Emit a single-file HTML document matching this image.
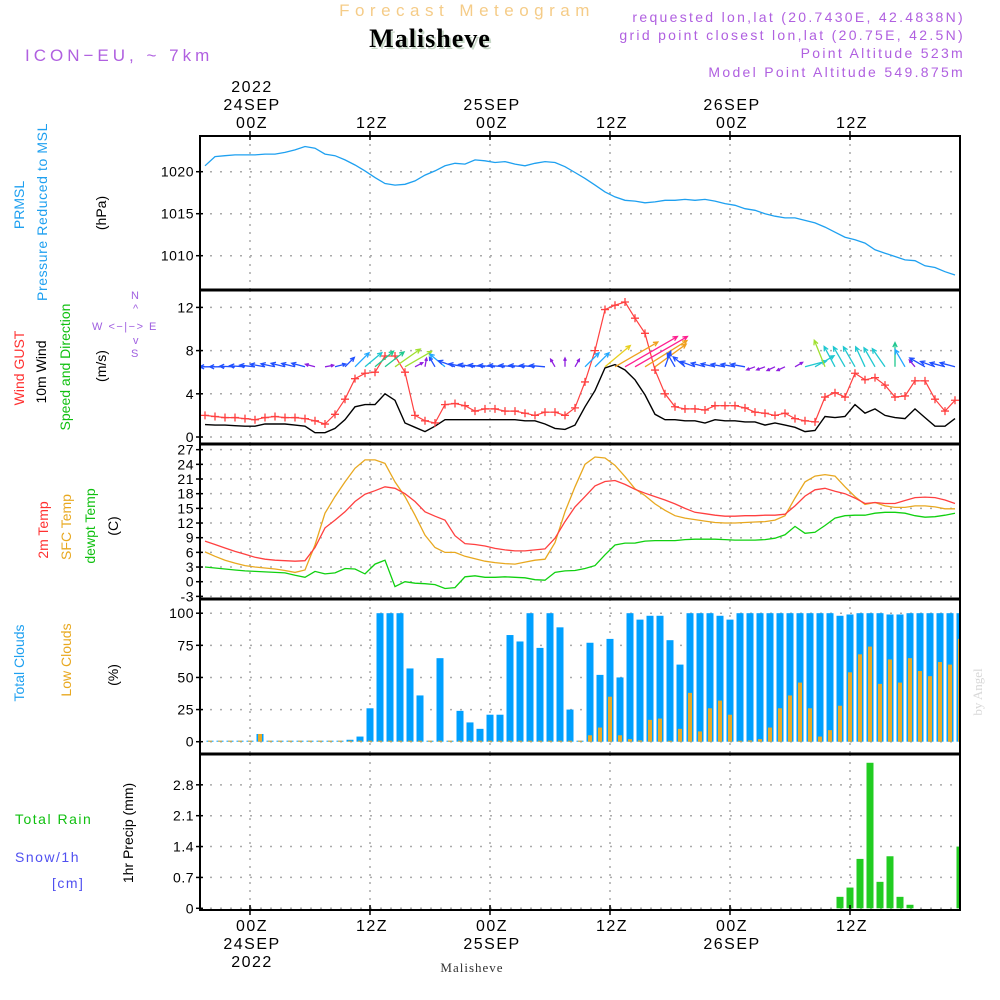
<!DOCTYPE html>
<html><head><meta charset="utf-8">
<style>
html,body{margin:0;padding:0;background:#fff;}
svg{display:block;font-family:"Liberation Sans",sans-serif;}
</style></head>
<body>
<svg id="chart" width="1000" height="1000" viewBox="0 0 1000 1000" xmlns="http://www.w3.org/2000/svg">
<rect x="0" y="0" width="1000" height="1000" fill="#fff"/>
<text x="467" y="16" text-anchor="middle" font-size="17" letter-spacing="5.5" fill="#f5cc88">Forecast Meteogram</text>
<text x="432" y="49" text-anchor="middle" font-size="26" font-weight="bold" letter-spacing="1" font-family="Liberation Serif,serif" fill="#c8d8c8">Malisheve</text>
<text x="430" y="47" text-anchor="middle" font-size="26" font-weight="bold" letter-spacing="1" font-family="Liberation Serif,serif" fill="#000">Malisheve</text>
<g fill="#b060e0" font-size="14" letter-spacing="2.3" text-anchor="end">
<text x="965" y="22">requested lon,lat (20.7430E, 42.4838N)</text>
<text x="965" y="40">grid point closest lon,lat (20.75E, 42.5N)</text>
<text x="965" y="58">Point Altitude 523m</text>
<text x="965" y="77">Model Point Altitude 549.875m</text>
</g>
<text x="25" y="61" font-size="17" letter-spacing="4" fill="#b060e0">ICON−EU, ~ 7km</text>
<g id="plots"></g>
<g font-size="14">
<text transform="translate(24,205) rotate(-90)" text-anchor="middle" fill="#1ea0f0">PRMSL</text>
<text transform="translate(47,212) rotate(-90)" text-anchor="middle" fill="#1ea0f0" letter-spacing="0.6">Pressure Reduced to MSL</text>
<text transform="translate(106,213) rotate(-90)" text-anchor="middle" fill="#000">(hPa)</text>
<text transform="translate(24,368) rotate(-90)" text-anchor="middle" fill="#ff3030">Wind GUST</text>
<text transform="translate(46,372) rotate(-90)" text-anchor="middle" fill="#000">10m Wind</text>
<text transform="translate(70,367) rotate(-90)" text-anchor="middle" fill="#10c010">Speed and Direction</text>
<text transform="translate(106,366) rotate(-90)" text-anchor="middle" fill="#000">(m/s)</text>
<text transform="translate(48,530) rotate(-90)" text-anchor="middle" fill="#ff3030">2m Temp</text>
<text transform="translate(71,527) rotate(-90)" text-anchor="middle" fill="#e8a820">SFC Temp</text>
<text transform="translate(95,526) rotate(-90)" text-anchor="middle" fill="#10c010">dewpt Temp</text>
<text transform="translate(118,526) rotate(-90)" text-anchor="middle" fill="#000">(C)</text>
<text transform="translate(24,663) rotate(-90)" text-anchor="middle" fill="#1ea0f0">Total Clouds</text>
<text transform="translate(71,660) rotate(-90)" text-anchor="middle" fill="#e8a820">Low Clouds</text>
<text transform="translate(118,675) rotate(-90)" text-anchor="middle" fill="#000">(%)</text>
<text x="15" y="824" fill="#10c010" letter-spacing="1.5">Total   Rain</text>
<text x="15" y="862" fill="#5050f0" letter-spacing="1.5">Snow/1h</text>
<text x="52" y="888" fill="#5050f0" letter-spacing="1.5">[cm]</text>
<text transform="translate(133,833) rotate(-90)" text-anchor="middle" fill="#000">1hr Precip (mm)</text>
</g>
<g font-size="11" fill="#a060e0">
<text x="131" y="299">N</text>
<text x="133" y="312">^</text>
<text x="92" y="330" letter-spacing="1.5">W &lt;−|−&gt; E</text>
<text x="133" y="344">v</text>
<text x="131" y="357">S</text>
</g>
<text transform="translate(982,692) rotate(-90)" text-anchor="middle" font-size="13" font-family="Liberation Serif,serif" fill="#d8d8d8">by Angel</text>
<text x="472" y="972" text-anchor="middle" font-size="13" font-family="Liberation Serif,serif" letter-spacing="1" fill="#333">Malisheve</text>
</svg>
<script>
const startHour = -4.5;
const pressure = [1020.7,1021.8,1021.9,1022.0,1022.0,1022.0,1022.1,1022.1,1022.3,1022.6,
1023.0,1022.8,1022.1,1021.9,1021.4,1020.8,1020.1,1019.3,1018.6,1018.4,
1018.5,1018.9,1019.6,1020.1,1020.7,1021.0,1020.9,1021.4,1021.3,1021.1,
1021.2,1020.9,1020.7,1021.0,1021.2,1021.1,1020.6,1019.9,1019.2,1018.4,
1017.6,1017.0,1016.6,1016.5,1016.3,1016.4,1016.6,1016.6,1016.7,1016.6,
1016.7,1016.5,1016.2,1016.0,1015.6,1015.4,1015.0,1014.7,1014.5,1014.5,
1014.2,1013.9,1013.4,1012.8,1012.2,1011.9,1011.5,1010.7,1010.3,1009.9,
1009.5,1009.4,1008.8,1008.6,1008.1,1007.7];
const gust = [2.0,1.9,1.8,1.8,1.7,1.6,1.8,1.9,1.8,1.8,1.7,1.5,1.2,2.1,3.5,5.4,5.9,6.0,7.5,7.5,
6.0,2.0,1.5,1.3,3.0,3.1,2.9,2.4,2.6,2.6,2.4,2.4,2.2,2.0,2.3,2.3,2.0,2.7,
5.1,8.0,11.8,12.2,12.5,11.0,9.6,6.2,4.0,2.8,2.6,2.6,2.5,2.9,2.9,2.9,2.7,2.3,2.2,2.0,2.2,1.7,
1.5,1.4,3.7,4.1,3.7,5.9,5.3,5.5,4.8,3.7,3.8,5.2,5.2,3.5,2.4,3.4];
const wind10m = [1.15,1.1,1.1,1.05,1.0,1.0,1.2,1.2,1.2,1.1,1.0,0.4,0.4,0.8,1.6,2.8,3.0,3.0,4.0,3.4,
1.3,0.9,0.5,1.0,1.6,1.6,1.6,1.6,1.6,1.6,1.6,1.6,1.5,1.5,1.2,0.8,0.7,1.1,
2.8,4.3,6.4,6.7,6.2,5.3,3.9,2.1,1.6,1.6,1.5,1.5,1.3,1.6,1.5,1.5,1.4,1.4,1.1,1.3,1.1,0.9,
0.5,0.6,1.9,1.8,1.9,3.0,2.2,2.6,2.0,1.8,1.7,2.6,1.8,1.0,1.0,1.7];
const windDir = [180,180,180,178,176,174,170,168,166,166,165,165,10,15,45,45,40,40,38,35,
30,28,80,120,140,160,170,172,174,175,175,175,175,175,175,120,90,60,
45,45,40,30,30,30,32,36,70,120,140,160,165,168,170,170,170,200,200,205,205,30,
15,30,112,118,120,120,115,120,125,90,120,130,150,160,165,165];
const windArrowSpeed = [2.8,2.8,2.8,2.8,2.8,2.8,2.7,2.6,2.6,2.5,2.5,1.8,1.6,2.0,2.4,3.6,4.0,4.4,4.4,5.6,
5.6,1.6,1.6,2.0,3.6,3.2,3.0,3.0,3.0,3.0,3.0,2.9,2.9,2.8,2.8,1.6,1.6,1.6,
3.6,3.6,6.0,9.0,11.0,11.0,9.0,7.0,3.0,2.8,2.8,2.8,2.6,2.6,2.6,2.6,2.6,1.6,1.6,1.6,1.6,1.6,
4.0,4.0,5.2,4.2,4.2,4.2,4.0,4.0,4.0,4.4,3.6,1.6,3.2,2.8,2.8,2.8];
const temp2m = [8.3,7.6,6.9,6.2,5.6,5.0,4.6,4.4,4.3,4.2,4.3,7.0,11.0,12.6,14.3,16.4,17.9,18.6,19.4,19.1,
18.0,16.4,14.3,13.4,12.6,9.4,7.8,7.6,7.3,6.8,6.5,6.3,6.3,6.5,6.7,8.9,12.3,15.3,17.4,
19.6,20.5,20.7,19.9,18.9,18.1,17.4,16.7,15.9,15.0,14.2,13.9,13.6,13.4,13.4,13.5,13.5,13.6,13.6,13.8,
15.5,17.5,18.8,19.1,18.5,18.0,17.1,16.0,16.2,16.0,16.0,16.6,17.2,17.3,17.2,16.7,16.0];
const tempSfc = [6.1,5.2,4.4,3.8,3.3,3.0,2.8,2.6,2.3,1.9,2.4,7.5,14.0,17.4,20.4,23.2,24.9,24.9,24.2,20.4,
17.4,13.6,9.5,7.0,6.0,6.0,5.2,4.7,4.2,3.9,3.7,3.6,4.0,4.4,4.6,8.0,14.3,19.4,24.0,
25.5,25.3,23.8,21.5,19.0,17.6,15.9,14.6,13.5,13.0,12.7,12.4,12.1,12.0,12.0,12.1,12.2,12.3,12.6,13.5,
17.1,20.4,21.6,21.9,21.6,19.4,17.4,15.8,16.2,15.5,15.2,15.2,15.5,15.5,15.3,14.9,14.9];
const dewpt = [3.0,2.8,2.6,2.4,2.2,2.1,2.0,1.9,1.8,1.3,0.9,2.1,1.6,1.8,2.7,2.6,1.6,3.6,4.4,-1.0,
0.0,-0.3,-0.4,-0.6,-1.4,-1.2,1.0,1.2,0.9,0.9,1.0,0.9,0.8,0.4,0.3,1.9,2.2,2.3,2.7,
3.3,5.5,7.5,7.9,7.9,8.3,8.4,8.4,8.4,8.6,8.7,8.7,8.7,8.6,8.5,8.5,8.5,8.6,8.9,9.6,
11.3,9.9,10.1,11.5,13.0,13.5,13.6,13.6,14.0,14.2,14.2,14.0,13.5,13.2,13.3,13.6,14.0];
const cloudStartHour = -4;
const totalClouds = [0.5,0.5,0.5,0.5,0.5,6,0.5,0.5,0.5,0.5,0.5,0.5,0.5,0.5,1.5,4,26,100,100,100,
57,36,0.5,65,0,24,15,10,21,21,83,78,100,73,100,89,25,0,77,52,
80,50,100,95,98,98,79,60,100,100,100,98,95,100,100,100,100,100,100,100,
100,100,100,98,99,100,100,100,99,99,100,100,100,100,100,100];
const lowClouds = [0,0,0,0,0,6,0,0,0,0,0,0,0,0,0,0,0,0,0,0,
0,0,0,0,0,0,0,0,0,0,0,0,0,0,0,0,0,0,5,11,
35,5,2,1,17,18,0.5,10,38,8,26,32,21,0.5,1,2,11,26,36,46,
26,4,9,28,54,68,74,45,64,46,65,55,51,62,60,80];
const precipHours = [59,60,61,62,63,64,65,66,71];
const precip = [0.26,0.47,1.12,3.3,0.6,1.18,0.26,0.08,1.4];
const topTicks = [[0,["2022","24SEP","00Z"]],[12,["12Z"]],[24,["25SEP","00Z"]],[36,["12Z"]],[48,["26SEP","00Z"]],[60,["12Z"]]];
const bottomTicks = [[0,["00Z","24SEP","2022"]],[12,["12Z"]],[24,["00Z","25SEP"]],[36,["12Z"]],[48,["00Z","26SEP"]],[60,["12Z"]]];
const pTicks = [1020,1015,1010];
const wTicks = [0,4,8,12];
const tTicks = [-3,0,3,6,9,12,15,18,21,24,27];
const cTicks = [0,25,50,75,100];
const rTicks = [0,0.7,1.4,2.1,2.8];

const NS="http://www.w3.org/2000/svg";
const X0=200, X1=960;
const xs = h => 250 + h*10;
const panels = [
 {top:136,bot:290, y:v=>171.7-(v-1020)*8.4, ticks:pTicks, name:'pressure'},
 {top:290,bot:444, y:v=>437-v*10.8, ticks:wTicks, name:'wind'},
 {top:444,bot:599, y:v=>581.7-v*4.89, ticks:tTicks, name:'temperature'},
 {top:599,bot:754, y:v=>741.7-v*1.285, ticks:cTicks, name:'clouds'},
 {top:754,bot:910, y:v=>908.3-v*44.1, ticks:rTicks, name:'precip'}
];
const root=document.getElementById('plots');
function mk(tag,attrs,parent){const e=document.createElementNS(NS,tag);for(const k in attrs)e.setAttribute(k,attrs[k]);(parent||root).appendChild(e);return e;}
const defs=mk('defs',{});
panels.forEach((p,k)=>{const cp=mk('clipPath',{id:'clip'+k},defs);mk('rect',{x:X0,y:p.top,width:X1-X0,height:p.bot-p.top},cp);});
const seriesH = pressure.map((_,i)=>startHour+i);

panels.forEach((p,k)=>{
  const g=mk('g',{});
  
  
  topTicks.forEach(t=>{
    const l=mk('line',{x1:xs(t[0]),x2:xs(t[0]),y1:p.top,y2:p.bot,stroke:'#aaa','stroke-width':1.5,'stroke-dasharray':'2 6'},g);
    
    
  });
  p.ticks.forEach(v=>{
    const y=p.y(v);
    const l=mk('line',{x1:X0,x2:X1,y1:y,y2:y,stroke:'#aaa','stroke-width':1.5,'stroke-dasharray':'2 8'},g);
    
    
    const tk=mk('line',{x1:X0-4,x2:X0+3,y1:y,y2:y,stroke:'#000','stroke-width':1.5},g);
    
    
    const tx=mk('text',{x:X0-6,y:y+5,'text-anchor':'end','font-size':14,'letter-spacing':0.5,fill:'#000'},g);
    tx.textContent=String(v);
    
    
  });
});

function polyline(vals,hours,p,k,color,name,w){
  const pts=vals.map((v,i)=>xs(hours[i]).toFixed(1)+','+p.y(v).toFixed(1)).join(' ');
  const l=mk('polyline',{points:pts,fill:'none',stroke:color,'stroke-width':w||1.3,'clip-path':'url(#clip'+k+')'});
  
  
  return l;
}
polyline(pressure,seriesH,panels[0],0,'#1ea0f0','pressure-line');
polyline(wind10m,seriesH,panels[1],1,'#000','wind-speed-line',1.4);
polyline(gust,seriesH,panels[1],1,'#ff4040','gust-line',1.2);
gust.forEach((v,i)=>{
  const x=xs(seriesH[i]), y=panels[1].y(v);
  const c=mk('path',{d:`M${x-4},${y}H${x+4}M${x},${y-4}V${y+4}`,stroke:'#ff4040','stroke-width':1.3,fill:'none','clip-path':'url(#clip1)'});
  
  
});
function arrowColor(s){
  if(s<2)return '#9020e0'; if(s<3.3)return '#2050ff'; if(s<3.8)return '#20a8ff'; if(s<4.3)return '#20c8d0';
  if(s<5)return '#20c890'; if(s<5.8)return '#a0e030'; if(s<7)return '#e8d020'; if(s<9.5)return '#f0a020'; if(s<10.5)return '#ff3040'; return '#ff2090';
}
windDir.forEach((d,i)=>{
  const s=windArrowSpeed[i], L=s*5.5, a=d*Math.PI/180;
  const x0=xs(seriesH[i]), y0=panels[1].y(6.5);
  const x1=x0+L*Math.cos(a), y1=y0-L*Math.sin(a);
  const hl=Math.min(5,Math.max(3,L*0.35));
  const h1x=x1-hl*Math.cos(a-0.45), h1y=y1+hl*Math.sin(a-0.45);
  const h2x=x1-hl*Math.cos(a+0.45), h2y=y1+hl*Math.sin(a+0.45);
  const p=mk('path',{d:`M${x0},${y0}L${x1},${y1}M${h1x},${h1y}L${x1},${y1}L${h2x},${h2y}`,stroke:arrowColor(s),'stroke-width':1.3,fill:'none','clip-path':'url(#clip1)'});
  
  
});
polyline(tempSfc,seriesH,panels[2],2,'#e8a820','sfc-temp-line');
polyline(temp2m,seriesH,panels[2],2,'#ff4040','temp-2m-line');
polyline(dewpt,seriesH,panels[2],2,'#10d010','dewpt-line');
totalClouds.forEach((v,i)=>{
  const h=cloudStartHour+i, x=xs(h), p=panels[3], y=p.y(v), y0=p.y(0);
  const b=mk('rect',{x:x-3.5,y:Math.min(y,y0-1),width:7,height:Math.max(1,y0-y),fill:'#00a0ff','clip-path':'url(#clip3)'});
  
  
  const lv=lowClouds[i], ly=p.y(lv);
  const lb=mk('rect',{x:x-2,y:Math.min(ly,y0-1),width:4,height:Math.max(1,y0-ly),fill:'#e8aa28','clip-path':'url(#clip3)'});
  
  
});
precip.forEach((v,i)=>{
  const x=xs(precipHours[i]), p=panels[4], y=p.y(v), y0=p.y(0);
  const b=mk('rect',{x:x-3.5,y:y,width:7,height:y0-y,fill:'#22cc22','clip-path':'url(#clip4)'});
  
  
});
panels.forEach((p,k)=>{
  const f=mk('rect',{x:X0,y:p.top,width:X1-X0,height:p.bot-p.top,fill:'none',stroke:'#000','stroke-width':2});
  
  
});
[290,444,599,754].forEach(y=>{
  const l=mk('line',{x1:X0,x2:X1,y1:y,y2:y,stroke:'#000','stroke-width':3});
  
  
});
topTicks.forEach(t=>{
  const x=xs(t[0]);
  const tk=mk('line',{x1:x,x2:x,y1:131,y2:140,stroke:'#000','stroke-width':1.5});
  
  
  const n=t[1].length;
  t[1].forEach((s,j)=>{
    const tx=mk('text',{x:x+2,y:128-(n-1-j)*18,'text-anchor':'middle','font-size':16,'letter-spacing':1.5,fill:'#000'});
    tx.textContent=s;
    
    
  });
});
bottomTicks.forEach(t=>{
  const x=xs(t[0]);
  const tk=mk('line',{x1:x,x2:x,y1:905,y2:915,stroke:'#000','stroke-width':1.5});
  
  
  t[1].forEach((s,j)=>{
    const tx=mk('text',{x:x+2,y:931+j*18,'text-anchor':'middle','font-size':16,'letter-spacing':1.5,fill:'#000'});
    tx.textContent=s;
    
    
  });
});
</script>
</body></html>
